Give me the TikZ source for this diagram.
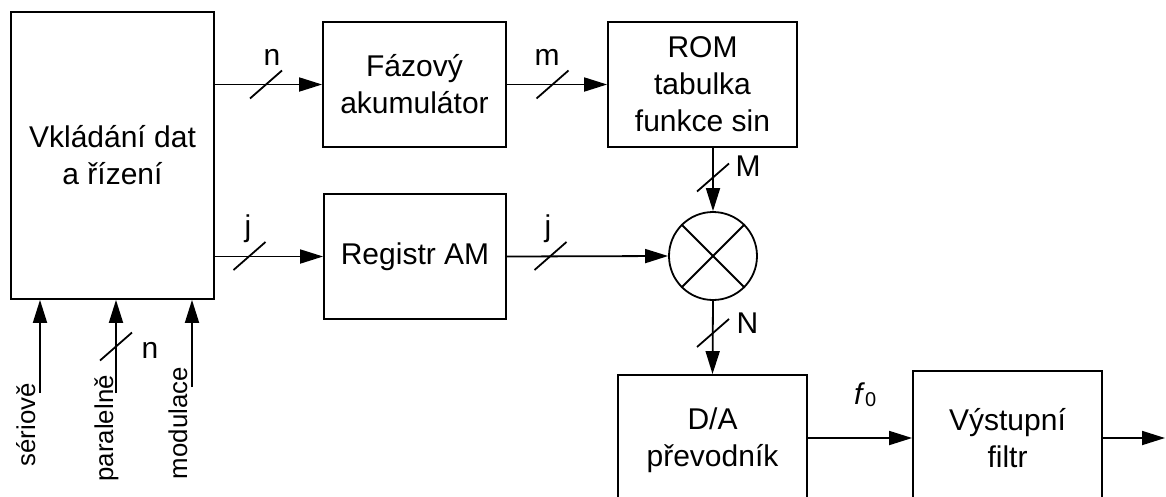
\documentclass[tikz,border=0pt]{standalone}
\usepackage{fontspec}
\setmainfont{Liberation Sans}
\usetikzlibrary{arrows.meta,calc}
\begin{document}
\begin{tikzpicture}[x=1pt,y=-1pt,
  blk/.style={draw, line width=1.8pt, inner sep=0pt, align=center, font=\fontsize{30}{37}\selectfont},
  arr/.style={line width=1.8pt, -{Triangle[length=23pt,width=14pt]}},
  lbl/.style={inner sep=0pt, anchor=base, font=\fontsize{30}{36}\selectfont},
  inl/.style={inner sep=0pt, anchor=base east, rotate=90, font=\fontsize{25.8}{30}\selectfont},
  sl/.style={line width=1.8pt},
  slash/.pic={\draw[sl] (-16,14) -- (16,-14);}
]
\clip (0,0) rectangle (1166,496);
% blocks
\node[blk, minimum width=203pt, minimum height=287pt] (main) at (112.5,155.5) {Vkládání dat\\a řízení};
\node[blk, minimum width=183pt, minimum height=125pt] (fa) at (414.5,84.5) {Fázový\\akumulátor};
\node[blk, minimum width=189pt, minimum height=125pt] (rom) at (702.5,84.5) {ROM\\tabulka\\funkce sin};
\node[blk, minimum width=182pt, minimum height=125pt] (reg) at (415,256.5) {Registr AM};
\node[draw, line width=1.8pt, circle, minimum size=88pt, inner sep=0pt] (mul) at (713,256) {};
\draw[sl] (mul.north west) -- (mul.south east);
\draw[sl] (mul.north east) -- (mul.south west);
\node[blk, minimum width=189pt, minimum height=130pt] (da) at (712.5,440) {D/A\\převodník};
\node[blk, minimum width=189pt, minimum height=134pt] (fil) at (1007.5,438) {Výstupní\\filtr};
% connectors
\draw[arr] (main.east |- fa.west) -- (fa.west);
\draw[arr] (fa.east) -- (rom.west);
\draw[arr] (main.east |- reg.west) -- (reg.west);
\draw[arr] (reg.east) -- (mul.west);
\draw[arr] (mul.north |- rom.south) -- (mul.north);
\draw[arr] (mul.south) -- (da.north);
\draw[arr] (da.east |- fil.west) -- (fil.west);
\coordinate (out) at (1165,438);
\draw[arr] (fil.east) -- (out);
% inputs
\coordinate (i1) at (40,393);
\coordinate (i2) at (116,393);
\coordinate (i3) at (192,387);
\draw[arr] (i1) -- (i1 |- main.south);
\draw[arr] (i2) -- (i2 |- main.south);
\draw[arr] (i3) -- (i3 |- main.south);
\node[inl] (l1) at (35,383) {sériově};
\node[inl] (l2) at (113,375) {paralelně};
\node[inl] (l3) at (187,367) {modulace};
% bus slashes
\pic at (266,84.5) {slash};
\pic at (552.5,84.5) {slash};
\pic at (249.5,256) {slash};
\pic at (550.5,256) {slash};
\pic at (713,177.5) {slash};
\pic at (713,333) {slash};
\pic at (116,346.5) {slash};
% labels
\node[lbl] (tn) at (272,65) {n};
\node[lbl] (tm) at (547,65) {m};
\node[lbl] (tj1) at (248,236) {j};
\node[lbl] (tj2) at (548,236) {j};
\node[lbl] (tM) at (748,176) {M};
\node[lbl] (tN) at (747.5,333) {N};
\node[lbl] (tn2) at (150,358) {n};
\node[lbl, anchor=base west] (f0) at (854,404) {\textit{f}\raisebox{-2pt}{\fontsize{20}{20}\selectfont 0}};
\end{tikzpicture}
\end{document}
